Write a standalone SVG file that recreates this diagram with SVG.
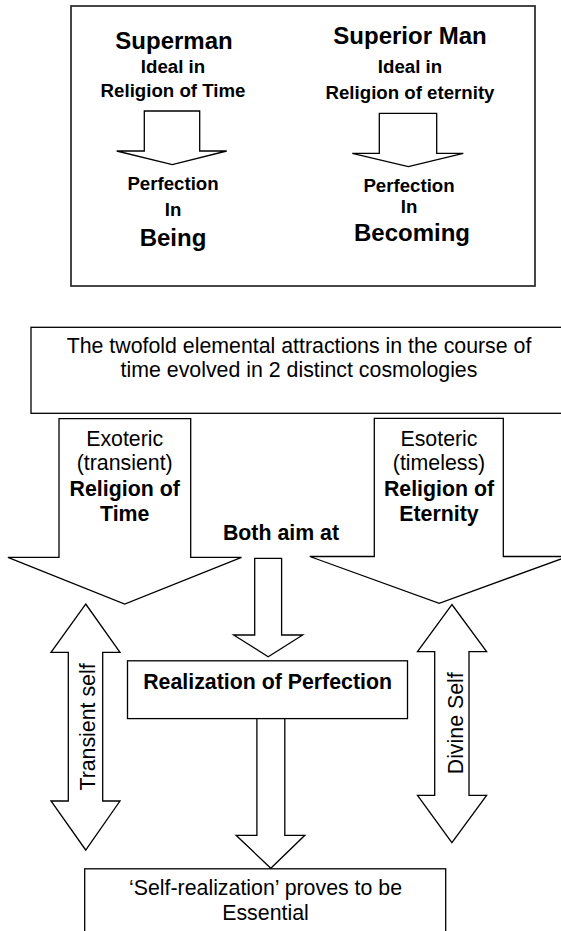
<svg xmlns="http://www.w3.org/2000/svg" width="561" height="931" viewBox="0 0 561 931">
<style>
text{font-family:"Liberation Sans",Arial,Helvetica,sans-serif;fill:#000;text-anchor:middle}
.b{font-weight:bold}
.big{font-size:24px;font-weight:bold}
.sm{font-size:18.67px;font-weight:bold}
.n{font-size:21.33px}
.shape{fill:#fff;stroke:#000;stroke-width:1.3}
.frame{fill:#fff;stroke:#333;stroke-width:1.8}
</style>
<rect width="561" height="931" fill="#fff"/>

<g id="ideal-box">
<rect class="frame" x="71" y="6" width="464" height="280"/>
<g id="superman">
<text class="big" x="174" y="49">Superman</text>
<text class="sm" x="173" y="73.3">Ideal in</text>
<text class="sm" x="173" y="96.5">Religion of Time</text>
</g>
<g id="superior-man">
<text class="big" x="410" y="43.5">Superior Man</text>
<text class="sm" x="410" y="73.3">Ideal in</text>
<text class="sm" x="410" y="98.5">Religion of eternity</text>
</g>
<g id="perfection-being">
<text class="sm" x="173" y="190">Perfection</text>
<text class="sm" x="173" y="216">In</text>
<text class="big" x="173" y="246">Being</text>
</g>
<g id="perfection-becoming">
<text class="sm" x="409" y="191.7">Perfection</text>
<text class="sm" x="409" y="213.3">In</text>
<text class="big" x="412" y="240.7">Becoming</text>
</g>
</g>

<g id="cosmologies">
<rect class="shape" x="31" y="327.3" width="540" height="86"/>
<text class="n" x="299" y="352.5">The twofold elemental attractions in the course of</text>
<text class="n" x="299" y="377">time evolved in 2 distinct cosmologies</text>
</g>

<g id="religion-of-time">
<polygon class="shape" points="59,418.7 190.7,418.7 190.7,557.3 241.5,557.3 124.7,604 7.9,557.3 59,557.3"/>
<text class="n" x="124.7" y="446">Exoteric</text>
<text class="n" x="124.7" y="470">(transient)</text>
<text class="n b" x="124.7" y="495.7">Religion of</text>
<text class="n b" x="124.7" y="521.3">Time</text>
</g>

<g id="religion-of-eternity">
<polygon class="shape" points="374.3,418.3 503.3,418.3 503.3,556.5 567.8,556.5 439.2,603.3 309.8,556.5 374.3,556.5"/>
<text class="n" x="439" y="446">Esoteric</text>
<text class="n" x="439" y="470">(timeless)</text>
<text class="n b" x="439" y="495.7">Religion of</text>
<text class="n b" x="439" y="521.3">Eternity</text>
</g>

<g id="both-aim-at">
<text class="n b" x="281" y="540">Both aim at</text>
</g>

<g id="realization">
<rect class="shape" x="127.5" y="660.8" width="280" height="57.8"/>
<text class="n b" x="267.6" y="689">Realization of Perfection</text>
</g>

<g id="self-realization">
<rect class="shape" x="84.7" y="868.8" width="361" height="80"/>
<text class="n" x="265.5" y="895">‘Self-realization’ proves to be</text>
<text class="n" x="265.5" y="920">Essential</text>
</g>

<g id="transient-self">
<polygon class="shape" points="85.7,604 120,652.3 102.7,652.3 102.7,801 120,801 85.7,850 51,801 68.3,801 68.3,652.3 51,652.3"/>
<text class="n" transform="translate(95,727) rotate(-90)">Transient self</text>
</g>

<g id="divine-self">
<polygon class="shape" points="451.9,604.5 486.6,651.7 469,651.7 469,795.3 486.6,795.3 451.9,842.7 417.5,795.3 434.7,795.3 434.7,651.7 417.5,651.7"/>
<text class="n" transform="translate(463.3,723.3) rotate(-90)">Divine Self</text>
</g>

<g id="connectors">
<polygon class="shape" points="144.3,111 199.7,111 199.7,151 226.7,151 172.3,164.7 116.7,151 144.3,151"/>
<polygon class="shape" points="379.3,113.3 436.7,113.3 436.7,153.3 463.3,153.3 408.3,166.7 352.3,153.3 379.3,153.3"/>
<polygon class="shape" points="254.7,558.3 281.6,558.3 281.6,635 302.7,635 268.2,656.7 233.6,635 254.7,635"/>
<polygon class="shape" points="256.9,718.6 284.8,718.6 284.8,835.3 304.8,835.3 270.8,868.3 236.1,835.3 256.9,835.3"/>
</g>
</svg>
